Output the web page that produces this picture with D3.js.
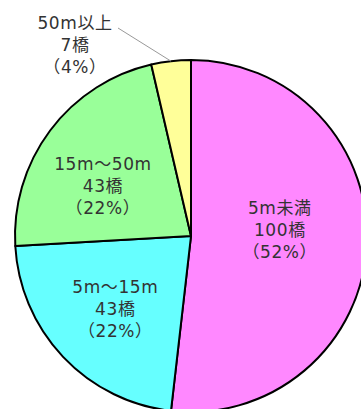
<!DOCTYPE html>
<html>
<head>
<meta charset="utf-8">
<script src="https://cdn.jsdelivr.net/npm/d3@7"></script>
<style>
  body { margin: 0; background: #fff; }
  text { font-family: "DejaVu Sans", "Noto Sans CJK JP", sans-serif; }
</style>
</head>
<body>
<div id="chart"></div>
<script>
// data
const categories = ["5m未満", "5m～15m", "15m～50m", "50m以上"];
const counts = [100, 43, 43, 7];
const percents = ["52%", "22%", "22%", "4%"];
const colors = ["#ff88ff", "#66ffff", "#99ff99", "#ffff99"];

// label nudges (px) relative to the arc centroid, middle line baseline
const labelShift = [[-11, -6], [-3, 10], [-8, 16], null];

const width = 361;
const height = 409;
const cx = 191;
const cy = 236;
const radius = 176;

const svg = d3.select("#chart")
  .append("svg")
  .attr("width", width)
  .attr("height", height);

const g = svg.append("g")
  .attr("transform", `translate(${cx}, ${cy})`);

const pie = d3.pie().sort(null).value(d => d);
const arcs = pie(counts);

const arc = d3.arc().innerRadius(0).outerRadius(radius);
const labelArc = d3.arc().innerRadius(100).outerRadius(100);
const edgeArc = d3.arc().innerRadius(radius).outerRadius(radius);

// slices
g.selectAll("path")
  .data(arcs)
  .enter()
  .append("path")
  .attr("d", arc)
  .attr("fill", (d, i) => colors[i])
  .attr("stroke", "#000")
  .attr("stroke-width", 2)
  .attr("stroke-linejoin", "round");

const fontSize = 17;
const lineGap = 22;

function labelLines(i) {
  return [categories[i], counts[i] + "橋", "（" + percents[i] + "）"];
}

function addLabel(x, y, i) {
  const t = g.append("text")
    .attr("text-anchor", "middle")
    .attr("font-size", fontSize)
    .attr("letter-spacing", 0.6)
    .attr("fill", "#333");
  labelLines(i).forEach((s, k) => {
    t.append("tspan")
      .attr("x", x)
      .attr("y", y + (k - 1) * lineGap)
      .text(s);
  });
}

// labels inside the slices
arcs.forEach((d, i) => {
  if (!labelShift[i]) return;
  const [x, y] = labelArc.centroid(d);
  addLabel(x + labelShift[i][0], y + labelShift[i][1], i);
});

// small slice: label outside with a leader line
const last = arcs.length - 1;
const [ex, ey] = edgeArc.centroid(arcs[last]);
const outX = 75 - cx;
const outY = 51 - cy;
addLabel(outX, outY, last);

g.append("line")
  .attr("x1", outX + 43)
  .attr("y1", outY - lineGap - 1)
  .attr("x2", ex)
  .attr("y2", ey)
  .attr("stroke", "#999")
  .attr("stroke-width", 1);
</script>
</body>
</html>
